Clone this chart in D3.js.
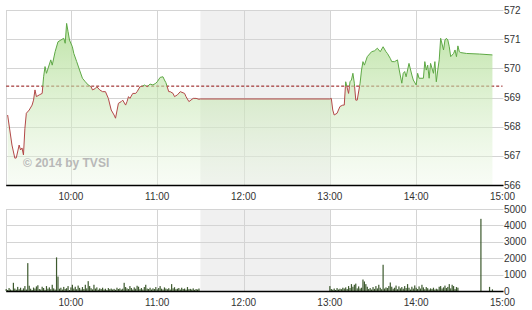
<!DOCTYPE html>
<html>
<head>
<meta charset="utf-8">
<script src="https://cdnjs.cloudflare.com/ajax/libs/d3/7.8.5/d3.min.js"></script>
<style>
    body { margin: 0; background: #fff; }
    text { font-family: "Liberation Sans", Arial, sans-serif; }
</style>
</head>
<body>
<svg width="532" height="310"></svg>
<script>
    // price ticks (time, index value)
    var priceTimes = ["9:16","9:19","9:21","9:22","9:24","9:25","9:26","9:27","9:28","9:29","9:31","9:33","9:34","9:35","9:36","9:38","9:40","9:41","9:42","9:43","9:46","9:47","9:49","9:51","9:53","9:55","9:56","9:57","9:58","9:59",
        "10:01","10:02","10:04","10:06","10:08","10:10","10:12","10:14","10:15","10:17","10:18","10:20","10:22","10:24","10:26","10:28","10:30","10:31","10:33","10:35","10:36","10:38","10:39","10:40","10:41","10:43","10:45","10:46","10:48","10:50","10:51","10:53","10:55","10:57","10:59",
        "11:00","11:02","11:04","11:05","11:06","11:08","11:09","11:11","11:12","11:14","11:16","11:19","11:20","11:22","11:25","11:27","11:29","11:30",
        "13:00","13:01","13:02","13:03","13:05","13:07","13:09","13:10","13:11","13:13","13:14","13:15","13:16","13:17","13:18","13:19","13:21","13:22","13:23","13:24","13:26","13:29","13:31","13:33","13:35","13:37","13:39","13:40","13:42","13:43","13:45","13:47","13:48","13:50","13:51","13:52","13:53","13:55","13:57","13:58",
        "14:00","14:01","14:02","14:05","14:06","14:07","14:08","14:09","14:10","14:12","14:13","14:14","14:15","14:16","14:17","14:19","14:20","14:21","14:22","14:23","14:24","14:26","14:27","14:28","14:29","14:30","14:31","14:35","14:44","14:53"];
    var priceValues = [568.40,567.37,566.92,566.93,567.37,567.20,567.27,567.03,567.94,568.46,568.57,568.74,568.91,569.26,569.03,569.09,569.14,569.71,570.06,569.83,570.29,570.11,570.57,570.91,570.97,571.03,570.86,571.54,571.26,570.97,
        570.74,570.51,570.23,569.94,569.66,569.54,569.43,569.37,569.26,569.31,569.37,569.26,569.20,569.20,568.97,568.57,568.40,568.29,568.80,568.86,568.91,568.74,568.86,569.03,568.97,569.14,569.14,569.20,569.37,569.39,569.43,569.37,569.46,569.43,569.49,
        569.54,569.69,569.71,569.60,569.51,569.20,569.20,569.14,569.03,569.09,569.20,569.14,569.03,568.86,568.97,568.97,568.94,568.95,
        568.95,568.97,568.57,568.40,568.46,568.69,568.74,568.74,569.54,569.14,569.54,569.60,569.83,569.49,568.91,568.91,569.49,569.94,570.23,570.11,570.40,570.57,570.60,570.69,570.57,570.74,570.57,570.51,570.34,570.23,570.23,570.29,570.00,569.49,569.83,569.89,569.71,570.17,569.77,569.60,
        569.43,569.83,569.66,569.66,570.23,569.94,570.11,569.66,570.17,569.83,570.23,569.54,569.94,570.29,571.03,570.63,570.97,571.03,570.97,570.74,570.40,570.51,570.63,570.40,570.77,570.57,570.54,570.51,570.49,570.46];
    var refValue = 569.39;

    // volume per minute, 9:15 - 11:29 and 13:00 - 14:29
    var volMorning = [120,60,180,90,40,500,150,80,250,110,
        200,70,160,300,90,1700,320,140,60,210,
        150,280,350,120,90,260,180,70,300,140,
        220,110,380,160,90,2050,880,140,200,90,
        250,130,170,300,60,220,380,150,260,110,
        330,190,90,240,120,380,160,600,300,170,
        100,380,150,220,80,160,120,200,90,140,
        60,180,110,150,90,130,70,200,120,160,
        90,140,500,240,160,120,300,180,90,220,
        140,320,260,110,180,90,240,380,150,120,
        200,90,160,120,240,100,180,300,140,90,
        220,150,110,170,90,420,160,230,110,140,
        180,90,200,120,150,80,240,110,130,90,
        160,70,120,90,150];
    var volAfternoon = [300,120,80,150,60,180,90,140,110,200,
        150,220,120,300,180,420,260,380,450,160,
        280,150,200,700,580,420,260,120,180,90,
        240,130,300,160,380,200,110,1600,150,220,
        180,300,520,260,140,200,330,110,280,160,
        240,140,300,180,420,200,90,260,150,340,
        200,120,280,150,380,220,110,240,170,90,
        160,120,200,90,140,100,260,300,150,220,
        330,180,250,420,160,380,300,120,240,200];
    var volLateTimes = ["14:45","14:51","14:53"];
    var volLate = [4400,250,100];

    var priceTicks = [566,567,568,569,570,571,572];
    var volTicks = [0,1000,2000,3000,4000,5000];
    var hourTicks = ["10:00","11:00","12:00","13:00","14:00","15:00"];

    var parse = d3.timeParse("%H:%M");
    var svg = d3.select("svg");

    var x = d3.scaleTime()
        .domain([parse("9:15"), parse("15:00")])
        .range([6.2, 502.5]);
    var yP = d3.scaleLinear().domain([566, 572]).range([185, 10]);
    var yV = d3.scaleLinear().domain([0, 5000]).range([291, 209]);

    var price = priceTimes.map(function(t, i) { return {date: parse(t), value: priceValues[i]}; });

    var vol = [];
    volMorning.forEach(function(v, i) { vol.push({date: d3.timeMinute.offset(parse("9:15"), i), value: v}); });
    volAfternoon.forEach(function(v, i) { vol.push({date: d3.timeMinute.offset(parse("13:00"), i), value: v}); });
    volLateTimes.forEach(function(t, i) { vol.push({date: parse(t), value: volLate[i]}); });

    var defs = svg.append("defs");
    var grad = defs.append("linearGradient")
        .attr("id", "fillGrad")
        .attr("gradientUnits", "userSpaceOnUse")
        .attr("x1", 0).attr("x2", 0)
        .attr("y1", yP(572)).attr("y2", yP(566));
    grad.append("stop").attr("offset", "0%").attr("stop-color", "#9fd67c").attr("stop-opacity", 0.75);
    grad.append("stop").attr("offset", "100%").attr("stop-color", "#eef8e8").attr("stop-opacity", 0.4);

    defs.append("clipPath").attr("id", "above").append("rect")
        .attr("x", 0).attr("y", 0).attr("width", 532).attr("height", yP(refValue));
    defs.append("clipPath").attr("id", "below").append("rect")
        .attr("x", 0).attr("y", yP(refValue)).attr("width", 532).attr("height", 200);

    function panel(y, ticks) {
        var g = svg.append("g");
        // lunch break shading
        g.append("rect")
            .attr("x", x(parse("11:30")))
            .attr("y", y.range()[1])
            .attr("width", x(parse("13:00")) - x(parse("11:30")))
            .attr("height", y.range()[0] - y.range()[1])
            .attr("fill", "#f0f0f0");
        g.selectAll(".hgrid").data(ticks).enter().append("line")
            .attr("x1", x.range()[0]).attr("x2", x.range()[1] + 1)
            .attr("y1", function(d) { return Math.round(y(d)) + 0.5; })
            .attr("y2", function(d) { return Math.round(y(d)) + 0.5; })
            .attr("stroke", "#d4d4d4");
        g.selectAll(".vgrid").data(["9:15"].concat(hourTicks.slice(0, 5))).enter().append("line")
            .attr("x1", function(d) { return Math.round(x(parse(d))) + 0.5; })
            .attr("x2", function(d) { return Math.round(x(parse(d))) + 0.5; })
            .attr("y1", y.range()[1]).attr("y2", y.range()[0])
            .attr("stroke", "#d4d4d4");
        g.selectAll(".ylab").data(ticks).enter().append("text")
            .attr("x", 504)
            .attr("y", function(d) { return y(d); })
            .attr("dy", "0.35em")
            .attr("font-size", "10px")
            .attr("fill", "#333")
            .text(function(d) { return d; });
        g.selectAll(".xlab").data(hourTicks).enter().append("text")
            .attr("x", function(d) { return x(parse(d)); })
            .attr("y", y.range()[0] + 11)
            .attr("dy", "0.35em")
            .attr("text-anchor", "middle")
            .attr("font-size", "10px")
            .attr("fill", "#333")
            .text(function(d) { return d; });
        return g;
    }

    var priceG = panel(yP, priceTicks);
    var volG = panel(yV, volTicks);

    // reference (previous close) line
    priceG.append("line")
        .attr("x1", x.range()[0]).attr("x2", x.range()[1])
        .attr("y1", yP(refValue)).attr("y2", yP(refValue))
        .attr("stroke", "#8e0a0a")
        .attr("stroke-dasharray", "3,2");

    var area = d3.area()
        .x(function(d) { return x(d.date); })
        .y0(yP(566))
        .y1(function(d) { return yP(d.value); });
    priceG.append("path")
        .datum(price)
        .attr("fill", "url(#fillGrad)")
        .attr("d", area);

    priceG.append("text")
        .attr("x", 23).attr("y", 167)
        .attr("font-size", "12px")
        .attr("font-weight", "bold")
        .attr("fill", "#b8b8b8")
        .text("\u00a9 2014 by TVSI");

    var line = d3.line()
        .x(function(d) { return x(d.date); })
        .y(function(d) { return yP(d.value); });
    priceG.append("path").datum(price)
        .attr("clip-path", "url(#above)")
        .attr("fill", "none").attr("stroke", "#5ea845").attr("stroke-width", 1)
        .attr("d", line);
    priceG.append("path").datum(price)
        .attr("clip-path", "url(#below)")
        .attr("fill", "none").attr("stroke", "#b24848").attr("stroke-width", 1)
        .attr("d", line);

    volG.selectAll(".bar").data(vol).enter().append("rect")
        .attr("x", function(d) { return x(d.date) - 0.6; })
        .attr("y", function(d) { return yV(d.value); })
        .attr("width", 1.2)
        .attr("height", function(d) { return yV(0) - yV(d.value); })
        .attr("fill", "#3d5a2e");

    // x axis base lines
    [yP, yV].forEach(function(y) {
        svg.append("line")
            .attr("x1", x.range()[0]).attr("x2", x.range()[1] + 1)
            .attr("y1", y.range()[0] + 0.5).attr("y2", y.range()[0] + 0.5)
            .attr("stroke", "#000").attr("stroke-width", 1.3);
    });
</script>
</body>
</html>
